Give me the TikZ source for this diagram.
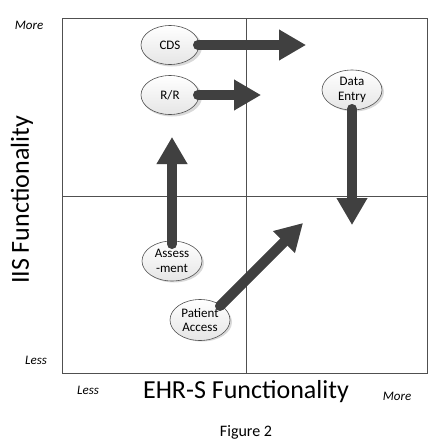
\documentclass[tikz,border=0pt]{standalone}
\usepackage{fontspec}
\setmainfont{Carlito}
\usetikzlibrary{arrows.meta,shapes.geometric}
\definecolor{arrowgray}{HTML}{404040}
\definecolor{linegray}{HTML}{505050}
\tikzset{
  bubble/.style={ellipse, draw=linegray, line width=0.6pt, top color=white, bottom color=black!10,
    minimum width=60pt, minimum height=39pt, inner sep=0pt, align=center,
    font=\fontsize{13}{14.5}\selectfont},
  bubbleshadow/.style={ellipse, fill=black, opacity=0.15, draw=none,
    minimum width=60pt, minimum height=39pt, inner sep=0pt},
  bigarrow/.style={draw=arrowgray, line width=10pt, line cap=round,
    -{Triangle[length=27pt,width=29pt]}},
  arrowshadow/.style={draw=black, opacity=0.15, line width=10pt, line cap=round,
    -{Triangle[length=27pt,width=29pt]}},
  grid/.style={draw=linegray, line width=0.8pt},
  tick/.style={font=\fontsize{13}{14}\selectfont\itshape},
  axis/.style={font=\fontsize{26}{28}\selectfont}
}
\begin{document}
\begin{tikzpicture}[x=1pt,y=-1pt]
\useasboundingbox (0,0) rectangle (440,442);
% frame
\draw[grid] (62,18) rectangle (427,373);
\draw[grid] (246,18) -- (246,373);
\draw[grid] (62,196) -- (427,196);
% node shadows
\node[bubbleshadow] (cdsS) at (172,47) {};
\node[bubbleshadow] (rrS) at (172,97) {};
\node[bubbleshadow] (deSh) at (354,92) {};
\node[bubbleshadow] (asSh) at (174,263) {};
\node[bubbleshadow] (paSh) at (202,322) {};
% nodes
\node[bubble, minimum width=58pt] (cds) at (170,45) {CDS};
\node[bubble, minimum width=58pt] (rr) at (170,95) {R/R};
\node[bubble, minimum height=40pt] (de) at (352,90) {Data\\Entry};
\node[bubble, minimum height=40pt] (as) at (172,261) {Assess\\-ment};
\node[bubble, minimum height=41pt] (pa) at (200,320) {Patient\\Access};
% arrow end points
\coordinate (cdsB) at (198,45);
\coordinate (cdsT) at (306,45);
\coordinate (rrB) at (198,95);
\coordinate (rrT) at (261,95);
\coordinate (deB) at (352,109);
\coordinate (deT) at (352,225);
\coordinate (asB) at (172,244);
\coordinate (asT) at (172,137);
\coordinate (paB) at (220,306);
\coordinate (paT) at (303,223);
% arrow shadows
\begin{scope}[shift={(2,2)}]
\draw[arrowshadow] (cdsB) -- (cdsT);
\draw[arrowshadow] (rrB) -- (rrT);
\draw[arrowshadow] (deB) -- (deT);
\draw[arrowshadow] (asB) -- (asT);
\draw[arrowshadow] (paB) -- (paT);
\end{scope}
% arrows
\draw[bigarrow] (cdsB) -- (cdsT);
\draw[bigarrow] (rrB) -- (rrT);
\draw[bigarrow] (deB) -- (deT);
\draw[bigarrow] (asB) -- (asT);
\draw[bigarrow] (paB) -- (paT);
% labels
\node[tick] (moreY) at (29,25) {More};
\node[tick] (lessY) at (36,360) {Less};
\node[tick] (lessX) at (88,390) {Less};
\node[tick] (moreX) at (397,396) {More};
\node[axis] (xlab) at (246,392) {EHR-S Functionality};
\node[axis, rotate=90] (ylab) at (22,200) {IIS Functionality};
\node[font=\fontsize{16}{18}\selectfont] (fig) at (246,432) {Figure 2};
\end{tikzpicture}
\end{document}
